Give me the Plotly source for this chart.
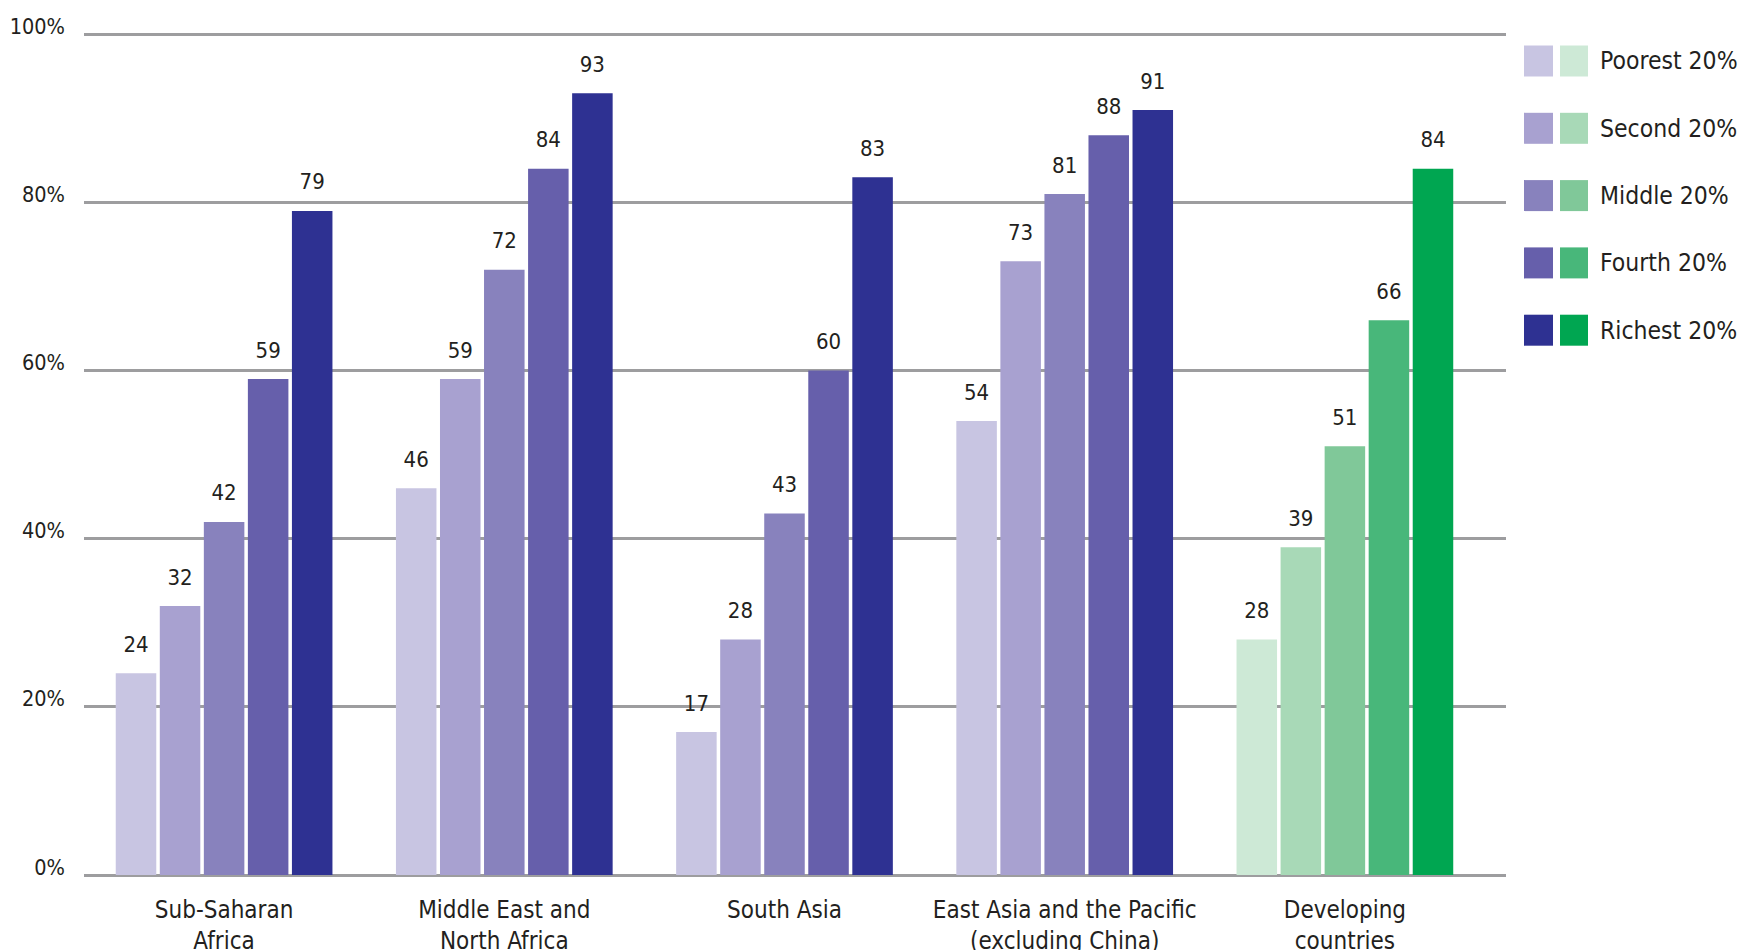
import plotly.graph_objects as go

# dados
regioes = [
    "Sub-Saharan<br>Africa",
    "Middle East and<br>North Africa",
    "South Asia",
    "East Asia and the Pacific<br>(excluding China)",
    "Developing<br>countries",
]
quintis = ["Poorest 20%", "Second 20%", "Middle 20%", "Fourth 20%", "Richest 20%"]

poorest = [24, 46, 17, 54, 28]
second = [32, 59, 28, 73, 39]
middle = [42, 72, 43, 81, 51]
fourth = [59, 84, 60, 88, 66]
richest = [79, 93, 83, 91, 84]
valores = [poorest, second, middle, fourth, richest]

cores_roxo = ["#c8c5e2", "#a8a1d0", "#8882bd", "#665fab", "#2e3192"]
cores_verde = ["#cde9d6", "#a8d9b7", "#80c899", "#48b77a", "#00a651"]

y_ticks = [0, 20, 40, 60, 80, 100]
y_ticktext = ["0%", "20%", "40%", "60%", "80%", "100%"]

FONTE = "Liberation Sans Narrow, DejaVu Sans Condensed, Arial Narrow, sans-serif"
COR_TEXTO = "#231f20"

# a pagina tem margem de 8px no body
OFF = 8
W, H = 1747, 950
M_L, M_R, M_T, M_B = 76, 249, 23, 83
largura = W - M_L - M_R
altura = H - M_T - M_B


def px_x(x):
    return (x - OFF - M_L) / largura


def px_y(y):
    return (H - M_B - (y - OFF)) / altura


fig = go.Figure()

for k, nome in enumerate(quintis):
    cores = [cores_roxo[k]] * (len(regioes) - 1) + [cores_verde[k]]
    fig.add_trace(
        go.Bar(
            x=regioes,
            y=valores[k],
            name=nome,
            marker=dict(color=cores, line=dict(width=0)),
            offsetgroup="g%d" % k,
            showlegend=False,
            hoverinfo="skip",
        )
    )
    # rotulos de valor acima das barras
    fig.add_trace(
        go.Scatter(
            x=regioes,
            y=valores[k],
            mode="markers+text",
            text=[str(v) for v in valores[k]],
            textposition="top center",
            textfont=dict(family=FONTE, size=22, color=COR_TEXTO),
            marker=dict(size=24, opacity=0),
            offsetgroup="g%d" % k,
            showlegend=False,
            hoverinfo="skip",
            cliponaxis=False,
        )
    )

# legenda feita a mao (dois quadrados por item)
linha_y0 = 61
passo = 67.3
for k, nome in enumerate(quintis):
    yc = linha_y0 + k * passo
    for x0, x1, cor in [(1524, 1553, cores_roxo[k]), (1560, 1588, cores_verde[k])]:
        fig.add_shape(
            type="rect", xref="paper", yref="paper",
            x0=px_x(x0), x1=px_x(x1), y0=px_y(yc + 15.5), y1=px_y(yc - 15.5),
            fillcolor=cor, line=dict(width=0), layer="above",
        )
    fig.add_annotation(
        xref="paper", yref="paper", x=px_x(1598), y=px_y(yc),
        text=nome, showarrow=False, xanchor="left", yanchor="middle",
        font=dict(family=FONTE, size=24.5, color=COR_TEXTO),
    )

fig.update_layout(
    width=W,
    height=H,
    margin=dict(l=M_L, r=M_R, t=M_T, b=M_B, autoexpand=False),
    plot_bgcolor="white",
    paper_bgcolor="white",
    barmode="group",
    bargap=0.214,
    bargroupgap=0.08,
    scattermode="group",
    scattergap=0.214,
    font=dict(family=FONTE, color=COR_TEXTO),
)
fig.update_xaxes(
    range=[-0.5, 4.575],
    showgrid=False,
    showline=False,
    ticks="",
    automargin=False,
    tickfont=dict(family=FONTE, size=24, color=COR_TEXTO),
    ticklabelstandoff=18,
)
fig.update_yaxes(
    range=[0, 100.4],
    tickvals=y_ticks,
    ticktext=y_ticktext,
    showgrid=True,
    gridcolor="#9d9d9f",
    gridwidth=2.5,
    zeroline=True,
    zerolinecolor="#9d9d9f",
    zerolinewidth=2.5,
    showline=False,
    ticks="",
    automargin=False,
    tickfont=dict(family=FONTE, size=21.5, color=COR_TEXTO),
    ticklabelstandoff=18,
    ticklabelshift=-8,
)

fig.write_html("out.html")
